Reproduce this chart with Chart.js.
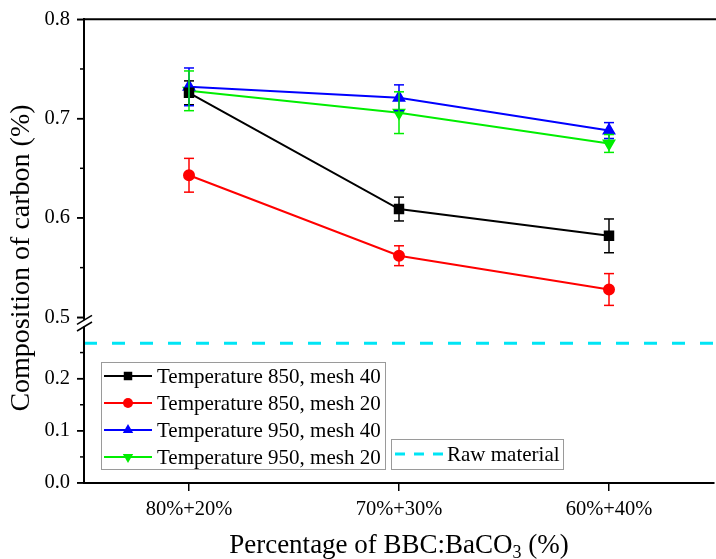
<!DOCTYPE html>
<html><head><meta charset="utf-8">
<script src="https://cdn.jsdelivr.net/npm/chart.js@4.4.0/dist/chart.umd.min.js"></script>
<style>html,body{margin:0;padding:0;background:#fff;overflow:hidden}</style>
</head><body>
<canvas id="c" width="722" height="559"></canvas>
<script>
// ---------- data ----------
const categories = ['80%+20%', '70%+30%', '60%+40%'];
const seriesLabels = ['Temperature 850, mesh 40', 'Temperature 850, mesh 20', 'Temperature 950, mesh 40', 'Temperature 950, mesh 20'];
const t850m40 = [0.726, 0.609, 0.582];
const t850m40Err = [0.012, 0.012, 0.017];
const t850m20 = [0.643, 0.562, 0.528];
const t850m20Err = [0.017, 0.010, 0.016];
const t950m40 = [0.732, 0.721, 0.688];
const t950m40Err = [0.019, 0.013, 0.008];
const t950m20 = [0.728, 0.706, 0.675];
const t950m20Err = [0.020, 0.021, 0.009];
const rawMaterialLabel = 'Raw material';
const rawMaterial = 0.268;
const upperTicks = [0.5, 0.6, 0.7, 0.8];
const upperMinor = [0.55, 0.65, 0.75];
const lowerTicks = [0.0, 0.1, 0.2];
const lowerMinor = [0.05, 0.15, 0.25];
const xTitle = ['Percentage of BBC:BaCO', '3', ' (%)'];
const yTitle = 'Composition of carbon (%)';

// ---------- styles ----------
const seriesValues = [t850m40, t850m20, t950m40, t950m20];
const seriesErrors = [t850m40Err, t850m20Err, t950m40Err, t950m20Err];
const colors = ['#000000', '#ff0000', '#0000ff', '#00ee00'];
const pStyles = ['rect', 'circle', 'triangle', 'triangle'];
const pRot = [0, 0, 0, 180];
const pRad = [6, 5, 6, 6];
const rawColor = '#00e5f5';
const FONT = "'Liberation Serif', 'Times New Roman', serif";
Chart.defaults.font.family = FONT;
Chart.defaults.color = '#000';

const datasets = seriesValues.map((vals, i) => ({
  label: seriesLabels[i],
  data: vals.map((v, j) => ({x: j, y: v})),
  errors: seriesErrors[i],
  yAxisID: 'yUp',
  borderColor: colors[i],
  backgroundColor: colors[i],
  borderWidth: 2,
  pointStyle: pStyles[i],
  rotation: pRot[i],
  pointRadius: pRad[i],
  pointHoverRadius: pRad[i],
  tension: 0
}));
datasets.push({
  label: rawMaterialLabel,
  data: [{x: -0.5, y: rawMaterial}, {x: 2.5, y: rawMaterial}],
  yAxisID: 'yLow',
  borderColor: rawColor,
  borderWidth: 3,
  borderDash: [13, 15],
  pointRadius: 0,
  pointStyle: 'line'
});

function seg(ctx, x1, y1, x2, y2) { ctx.beginPath(); ctx.moveTo(x1, y1); ctx.lineTo(x2, y2); ctx.stroke(); }

const decor = {
  id: 'decor',
  afterDatasetsDraw(chart) {
    const ctx = chart.ctx, xs = chart.scales.x;
    ctx.save();
    chart.data.datasets.forEach((ds, i) => {
      if (!ds.errors) return;
      const ys = chart.scales[ds.yAxisID];
      ctx.strokeStyle = ds.borderColor; ctx.lineWidth = 1.5;
      ds.data.forEach((p, j) => {
        const px = xs.getPixelForValue(p.x);
        const top = ys.getPixelForValue(p.y + ds.errors[j]);
        const bot = ys.getPixelForValue(p.y - ds.errors[j]);
        seg(ctx, px, top, px, bot);
        seg(ctx, px - 5, top, px + 5, top);
        seg(ctx, px - 5, bot, px + 5, bot);
      });
    });
    ctx.restore();
  },
  afterDraw(chart) {
    const ctx = chart.ctx, a = chart.chartArea;
    const yU = chart.scales.yUp, yL = chart.scales.yLow;
    ctx.save();
    ctx.strokeStyle = '#000';
    // frame: top and left axis lines
    ctx.lineWidth = 2;
    seg(ctx, a.left - 1, a.top, chart.width, a.top);
    seg(ctx, a.left, a.top - 1, a.left, a.bottom + 1);
    // major and minor ticks
    ctx.lineWidth = 1.5;
    upperTicks.forEach(v => { const p = yU.getPixelForValue(v); seg(ctx, a.left - 7, p, a.left, p); });
    lowerTicks.forEach(v => { const p = yL.getPixelForValue(v); seg(ctx, a.left - 7, p, a.left, p); });
    upperMinor.forEach(v => { const p = yU.getPixelForValue(v); seg(ctx, a.left - 4, p, a.left, p); });
    lowerMinor.forEach(v => { const p = yL.getPixelForValue(v); seg(ctx, a.left - 4, p, a.left, p); });
    // axis break
    const b1 = yU.getPixelForValue(upperTicks[0]) + 2.5;
    const b2 = yL.getPixelForValue(0.3);
    ctx.fillStyle = '#fff';
    ctx.fillRect(a.left - 2, b1, 4, b2 - b1);
    ctx.lineWidth = 1.5;
    seg(ctx, a.left - 7, b1 + 4.5, a.left + 8, b1 - 4.5);
    seg(ctx, a.left - 7, b2 + 4.5, a.left + 8, b2 - 4.5);

    // legends
    ctx.lineWidth = 1;
    ctx.strokeStyle = '#9a9a9a';
    ctx.fillStyle = '#fff';
    ctx.fillRect(101.5, 362.5, 284, 107);
    ctx.strokeRect(101.5, 362.5, 284, 107);
    ctx.fillRect(391.5, 439.5, 172, 30);
    ctx.strokeRect(391.5, 439.5, 172, 30);
    ctx.font = '21px ' + FONT;
    ctx.textBaseline = 'middle';
    ctx.textAlign = 'left';
    const ly = [376, 403, 430, 457];
    chart.data.datasets.slice(0, 4).forEach((ds, i) => {
      ctx.strokeStyle = ds.borderColor; ctx.lineWidth = 2;
      seg(ctx, 104, ly[i], 152, ly[i]);
      ctx.fillStyle = ds.backgroundColor;
      Chart.helpers.drawPoint(ctx, {pointStyle: ds.pointStyle, rotation: ds.rotation, radius: ds.pointRadius, borderWidth: 0}, 128, ly[i]);
      ctx.fillStyle = '#000';
      ctx.fillText(ds.label, 157, ly[i] + 1);
    });
    const raw = chart.data.datasets[4];
    ctx.strokeStyle = raw.borderColor; ctx.lineWidth = 3;
    ctx.setLineDash([10, 9]);
    seg(ctx, 395, 454, 443, 454);
    ctx.setLineDash([]);
    ctx.fillStyle = '#000';
    ctx.fillText(raw.label, 447, 455);

    // y title
    ctx.save();
    ctx.translate(22, 258);
    ctx.rotate(-Math.PI / 2);
    ctx.font = '28px ' + FONT;
    ctx.textAlign = 'center';
    ctx.fillText(yTitle, 0, 0);
    ctx.restore();

    // x title with subscript
    ctx.textBaseline = 'alphabetic';
    const big = '27px ' + FONT, small = '18px ' + FONT;
    ctx.font = big; const w1 = ctx.measureText(xTitle[0]).width, w3 = ctx.measureText(xTitle[2]).width;
    ctx.font = small; const w2 = ctx.measureText(xTitle[1]).width;
    let sx = (a.left + a.right) / 2 - (w1 + w2 + w3) / 2;
    const by = 553;
    ctx.font = big; ctx.fillText(xTitle[0], sx, by); sx += w1;
    ctx.font = small; ctx.fillText(xTitle[1], sx, by + 5); sx += w2;
    ctx.font = big; ctx.fillText(xTitle[2], sx, by);
    ctx.restore();
  }
};

function yAxis(extra) {
  return Object.assign({
    type: 'linear', position: 'left', stack: 'carbon',
    grid: {drawOnChartArea: false, drawTicks: true, tickLength: 7, color: '#000', lineWidth: 1.5},
    border: {display: true, color: '#000', width: 2},
    ticks: {padding: 7, font: {size: 20.5}, color: '#000', callback: v => v.toFixed(1)},
    afterFit: s => { s.width = 84; }
  }, extra);
}

new Chart(document.getElementById('c'), {
  type: 'line',
  data: {datasets},
  plugins: [decor],
  options: {
    responsive: false,
    animation: false,
    devicePixelRatio: 1,
    layout: {padding: {top: 19, right: 3, left: 0, bottom: 0}},
    plugins: {legend: {display: false}, tooltip: {enabled: false}},
    scales: {
      x: {
        type: 'linear', min: -0.5, max: 2.5,
        grid: {drawOnChartArea: false, drawTicks: true, tickLength: 8, color: '#000', lineWidth: 1.5},
        border: {display: true, color: '#000', width: 2},
        afterBuildTicks: s => { s.ticks = categories.map((c, i) => ({value: i})); },
        ticks: {padding: 6, font: {size: 20.5}, color: '#000', maxRotation: 0, callback: v => categories[v]},
        afterFit: s => { s.height = 76; }
      },
      yLow: yAxis({
        min: 0, max: 0.3176, stackWeight: 165.8,
        afterBuildTicks: s => { s.ticks = lowerTicks.map(v => ({value: v})); }
      }),
      yUp: yAxis({
        min: 0.5, max: 0.8, stackWeight: 298.2,
        afterBuildTicks: s => { s.ticks = upperTicks.map(v => ({value: v})); }
      })
    }
  }
});
</script>
</body></html>
